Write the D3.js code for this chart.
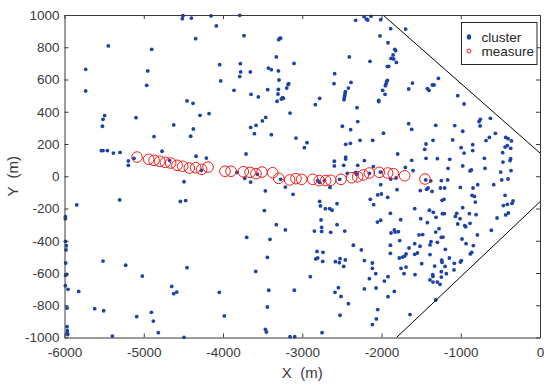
<!DOCTYPE html>
<html>
<head>
<meta charset="utf-8">
<script src="https://cdn.jsdelivr.net/npm/d3@7"></script>
<style>
  body { margin: 0; background: #fff; }
  svg text { font-family: "Liberation Sans", Arial, sans-serif; }
</style>
</head>
<body>
<svg id="chart" width="550" height="391"></svg>
<script>
// cluster points [x, y] in metres
const clusterPts = [
  [-4505,996],[-4513,977],[-4399,981],[-4151,994],[-4084,932],[-4345,853],[-5447,808],[-4900,787],[-5733,663],[-4950,653],
  [-4042,692],[-4029,591],[-4963,564],[-5733,529],[-4454,467],[-4378,452],[-4176,388],[-4290,378],[-5493,376],[-5514,353],
  [-5098,363],[-5522,310],[-4622,318],[-4374,293],[-4408,248],[-4870,246],[-5535,159],[-5514,159],[-5459,159],[-5383,144],
  [-5299,148],[-4769,155],[-4340,124],[-4210,113],[-5194,95],[-5194,68],[-5123,111],[-4273,37],[-4673,97],
  [-4492,-34],[-5304,-147],[-4538,-156],[-4471,-151],[-5846,-178],[-5989,-251],[-5989,-263],[-5989,-404],[-5977,-431],[-5981,-457],
  [-5514,-526],[-5228,-552],[-5985,-538],[-5972,-608],[-5985,-614],[-4454,-567],[-5018,-619],[-5989,-679],[-5956,-701],[-5821,-714],
  [-4647,-683],[-4622,-728],[-4584,-718],[-4046,-720],[-5968,-817],[-5619,-821],[-5506,-834],[-5089,-871],[-4904,-844],[-4879,-898],
  [-3983,-866],[-5968,-933],[-5964,-958],[-5964,-974],[-5960,-982],[-4816,-970],[-5396,-991],[-4492,-999],
  [-3789,998],[-2326,967],[-2220,990],[-2191,975],[-2174,969],[-2132,992],[-2010,971],[-3735,872],[-3297,847],[-3285,855],
  [-3272,857],[-2019,870],[-2406,740],[-2145,713],[-3327,740],[-3781,698],[-3428,671],[-3390,661],[-3301,653],[-3104,700],
  [-3777,647],[-3655,647],[-3789,618],[-2591,636],[-3293,597],[-2599,574],[-2385,582],[-2418,547],[-3171,574],[-3179,568],
  [-3196,547],[-3301,539],[-3436,537],[-3861,533],[-1985,533],[-3646,508],[-3554,492],[-3306,510],[-3247,487],[-3264,479],
  [-3238,483],[-3318,465],[-2456,525],[-2460,512],[-2464,500],[-2469,487],[-2473,475],[-2780,483],[-2835,444],[-2035,471],
  [-2035,463],[-2309,425],[-3154,392],[-3461,365],[-3503,343],[-3583,316],[-3651,303],[-3604,264],[-2300,339],[-2494,310],
  [-2389,289],[-3390,258],[-1975,267],[-3079,237],[-2940,208],[-2973,177],[-2271,223],[-2111,223],[-2452,198],[-2393,204],
  [-3709,138],[-2452,119],[-2452,107],[-2595,93],[-2595,64],[-2477,68],[-2216,97],[-2300,68],[-2103,60],[-2431,18],
  [-2326,24],[-2313,12],[-2153,18],[-2014,26],[-3823,24],[-3566,12],
  [-1884,915],[-1695,913],[-1918,828],[-1833,787],[-1821,779],[-1854,752],[-1846,727],[-1880,731],[-1812,706],[-1909,682],
  [-1926,680],[-1282,607],[-1610,578],[-1926,595],[-1934,587],[-1943,572],[-1951,562],[-1955,508],[-1657,541],[-1421,543],
  [-1400,533],[-1358,566],[-1337,566],[-1038,500],[-958,448],[-626,359],[-752,353],[-769,339],[-1657,326],[-1619,291],
  [-1316,316],[-1076,314],[-756,312],[-975,279],[-563,266],[-639,241],[-681,221],[-433,241],[-403,233],[-1350,223],
  [-1102,225],[-1438,200],[-849,196],[-441,181],[-412,190],[-361,219],[-370,173],[-996,177],[-1455,167],[-849,159],
  [-1796,138],[-958,144],[-702,111],[-471,146],[-370,109],[-378,97],[-1438,111],[-1295,109],[-1139,105],[-1619,99],
  [-467,88],[-1699,55],[-1602,35],[-1160,49],[-975,64],[-883,33],[-866,39],[-694,49],[-496,26],[-366,35],
  [-3726,-13],[-3651,-36],[-3466,-91],[-3213,-67],[-3116,-112],[-3272,-19],[-2805,-27],[-2780,-38],[-2721,-27],[-2650,-69],
  [-2528,-19],[-2010,-52],[-2048,-116],[-2002,-110],[-2780,-156],[-2771,-184],[-2561,-170],[-2708,-201],[-2654,-201],[-2624,-211],
  [-2141,-143],[-2099,-176],[-3478,-213],[-2763,-271],[-2561,-300],[-2052,-284],[-2010,-273],[-3327,-300],[-3213,-333],[-2847,-340],
  [-2755,-317],[-2755,-342],[-2641,-348],[-2464,-340],[-3701,-379],[-3407,-391],[-2355,-428],[-2254,-457],[-2814,-466],[-2738,-472],
  [-3440,-503],[-2830,-513],[-2805,-507],[-2742,-528],[-2582,-530],[-2523,-511],[-2532,-536],[-2456,-519],[-2216,-523],[-2477,-559],
  [-2115,-538],[-2115,-571],[-2073,-604],[-3587,-590],[-2898,-623],[-2153,-635],[-3423,-707],[-3100,-707],[-2587,-720],[-2544,-691],
  [-2216,-699],[-2069,-693],[-2511,-745],[-2418,-790],[-3440,-811],[-2048,-827],[-2523,-862],[-2065,-885],[-2115,-920],[-3465,-949],
  [-3453,-966],[-2750,-970],[-3154,-995],[-3095,-995],
  [-1884,-17],[-1817,-11],[-1442,-23],[-1379,-29],[-1245,-27],[-1165,-23],[-483,-23],[-403,-17],[-1804,-83],[-1510,-89],
  [-1430,-81],[-1413,-73],[-1362,-94],[-1257,-73],[-1203,-73],[-1005,-69],[-845,-73],[-786,-52],[-584,-52],[-1922,-131],
  [-858,-118],[-828,-125],[-441,-118],[-1211,-143],[-1236,-149],[-816,-160],[-340,-153],[-353,-168],[-462,-182],[-412,-174],
  [-1581,-201],[-1396,-211],[-1346,-224],[-1232,-232],[-1207,-232],[-1051,-230],[-975,-195],[-891,-232],[-807,-238],[-399,-228],
  [-433,-240],[-1888,-230],[-1312,-255],[-1068,-249],[-542,-259],[-1758,-269],[-1505,-263],[-1009,-263],[-1421,-288],[-883,-292],
  [-1038,-296],[-950,-306],[-938,-313],[-1274,-325],[-1316,-346],[-1880,-352],[-1838,-333],[-1829,-346],[-1787,-344],[-1526,-364],
  [-1480,-362],[-790,-364],[-614,-335],[-984,-389],[-1245,-379],[-1224,-377],[-933,-418],[-1770,-399],[-1375,-406],[-1388,-426],
  [-1581,-418],[-1888,-428],[-1514,-434],[-1295,-410],[-841,-430],[-1194,-453],[-1653,-445],[-862,-472],[-879,-482],[-1888,-478],
  [-1581,-484],[-1547,-476],[-1690,-482],[-1707,-495],[-1733,-501],[-1388,-486],[-1775,-507],[-1144,-507],[-992,-523],[-1005,-532],
  [-1240,-521],[-1236,-534],[-1493,-542],[-1081,-540],[-1329,-557],[-1198,-559],[-1754,-571],[-1690,-563],[-1085,-581],[-1245,-592],
  [-1716,-604],[-1577,-610],[-1354,-610],[-1350,-621],[-1182,-604],[-1918,-623],[-1245,-625],[-1388,-643],[-1350,-656],[-1295,-656],
  [-1261,-670],[-1964,-650],[-1838,-714],[-1918,-747],[-1316,-767],[-1640,-858]
];

// measured positions along the track
const measurePts = [
  [-5085,119],[-4938,105],[-4870,99],[-4799,93],[-4727,86],[-4660,82],[-4580,68],[-4509,62],[-4425,51],[-4345,53],
  [-4269,43],[-4189,57],[-3975,31],[-3899,31],[-3744,28],[-3659,24],[-3584,16],[-3508,26],[-3373,22],[-3297,-13],
  [-3159,-23],[-3079,-15],[-3007,-19],[-2868,-19],[-2785,-27],[-2704,-27],[-2641,-25],[-2511,-19],[-2376,-9],[-2301,-3],
  [-2229,8],[-2154,20],[-2028,24],[-1922,20],[-1851,16],[-1708,3],[-1451,-17]
];

// coverage boundary lines
const boundaryLines = [
  [[-1980, 1000], [0, 144]],
  [[-1810, -1000], [0, -158]]
];

const xTicks = [-6000, -5000, -4000, -3000, -2000, -1000, 0];
const yTicks = [-1000, -800, -600, -400, -200, 0, 200, 400, 600, 800, 1000];
const legendItems = ["cluster", "measure"];

const svg = d3.select("#chart");
const plotLeft = 64.5, plotRight = 540, plotTop = 15, plotBottom = 337.5;
const axisColor = "#3a3a3a";
const blue = "#1d43a6", red = "#f01c1c";

const x = d3.scaleLinear().domain([-6000, 0]).range([plotLeft, plotRight]);
const y = d3.scaleLinear().domain([-1000, 1000]).range([plotBottom, plotTop]);
const plainFmt = d => String(d);

// cluster dots
svg.append("g").selectAll("circle")
  .data(clusterPts)
  .join("circle")
  .attr("cx", d => x(d[0]))
  .attr("cy", d => y(d[1]))
  .attr("r", 1.9)
  .attr("fill", blue);

// measure circles
svg.append("g").selectAll("circle")
  .data(measurePts)
  .join("circle")
  .attr("cx", d => x(d[0]))
  .attr("cy", d => y(d[1]))
  .attr("r", 5.3)
  .attr("fill", "none")
  .attr("stroke", red)
  .attr("stroke-width", 1);

// boundary lines
svg.append("g").selectAll("path")
  .data(boundaryLines)
  .join("path")
  .attr("d", d3.line().x(d => x(d[0])).y(d => y(d[1])))
  .attr("fill", "none")
  .attr("stroke", "#000")
  .attr("stroke-width", 1);

// axes (inward ticks, box style)
function styleAxis(g) {
  g.select(".domain").attr("stroke", axisColor);
  g.selectAll(".tick line").attr("stroke", axisColor);
  g.selectAll(".tick text").attr("fill", axisColor).attr("font-size", "13.5px")
    .attr("font-family", "Liberation Sans, Arial, sans-serif");
}

svg.append("g").attr("transform", `translate(0,${plotBottom})`)
  .call(d3.axisBottom(x).tickValues(xTicks).tickFormat(plainFmt).tickSizeInner(-4).tickSizeOuter(0).tickPadding(10))
  .call(styleAxis);
svg.append("g").attr("transform", `translate(0,${plotTop})`)
  .call(d3.axisTop(x).tickValues(xTicks).tickSizeInner(-4).tickSizeOuter(0).tickFormat(""))
  .call(styleAxis);
svg.append("g").attr("transform", `translate(${plotLeft},0)`)
  .call(d3.axisLeft(y).tickValues(yTicks).tickFormat(plainFmt).tickSizeInner(-4).tickSizeOuter(0).tickPadding(5))
  .call(styleAxis);
svg.append("g").attr("transform", `translate(${plotRight},0)`)
  .call(d3.axisRight(y).tickValues(yTicks).tickSizeInner(-4).tickSizeOuter(0).tickFormat(""))
  .call(styleAxis);

// axis titles
svg.append("text")
  .attr("x", (plotLeft + plotRight) / 2).attr("y", 378)
  .attr("text-anchor", "middle").attr("font-size", "15px").attr("fill", axisColor)
  .attr("xml:space", "preserve")
  .text("X  (m)");
svg.append("text")
  .attr("transform", `translate(18,${(plotTop + plotBottom) / 2}) rotate(-90)`)
  .attr("text-anchor", "middle").attr("font-size", "15px").attr("fill", axisColor)
  .attr("xml:space", "preserve")
  .text("Y  (m)");

// legend
const legend = svg.append("g");
legend.append("rect")
  .attr("x", 461.5).attr("y", 22.5).attr("width", 75.5).attr("height", 42)
  .attr("fill", "#fff").attr("stroke", "#262626").attr("stroke-width", 1);
legendItems.forEach((name, i) => {
  const cy = 37 + i * 14;
  if (i === 0) {
    legend.append("ellipse").attr("cx", 469).attr("cy", cy).attr("rx", 2.2).attr("ry", 2.8).attr("fill", blue);
  } else {
    legend.append("circle").attr("cx", 469).attr("cy", cy).attr("r", 2).attr("fill", "none")
      .attr("stroke", red).attr("stroke-width", 1);
  }
  legend.append("text")
    .attr("x", 481.5).attr("y", cy).attr("dy", "0.35em")
    .attr("font-size", "13.5px").attr("fill", "#262626")
    .text(name);
});
</script>
</body>
</html>
